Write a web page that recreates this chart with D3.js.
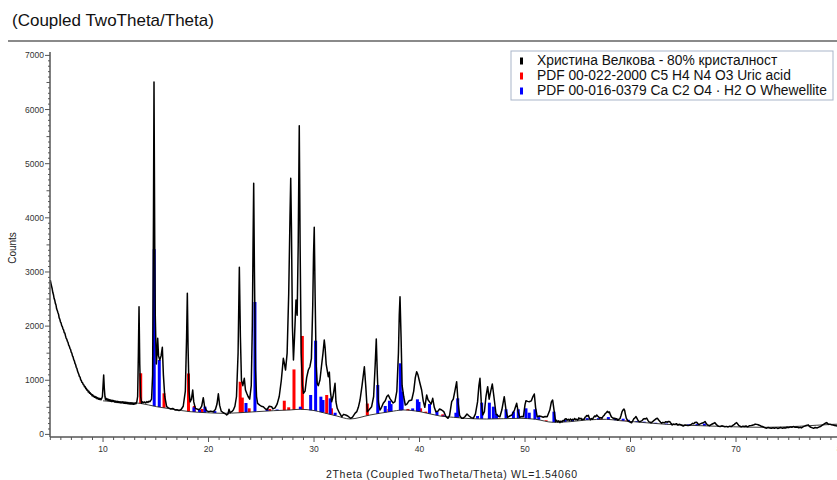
<!DOCTYPE html>
<meta charset="utf-8">
<style>
  body { margin: 0; background: #fff; }
  svg { display: block; font-family: "Liberation Sans", Arial, sans-serif; }
  .tick-label { font-size: 8.5px; fill: #333; }
  .axis-line { stroke: #555; stroke-width: 1.5; fill: none; }
  .tick { stroke: #555; stroke-width: 1; }
  .scan { fill: none; stroke: #000; stroke-width: 1.5; stroke-linejoin: round; }
  .bg { fill: none; stroke: #222; stroke-width: 0.9; }
  .legend-text { font-size: 13.8px; fill: #111; }
</style>
<svg width="837" height="480"></svg>
<script src="https://d3js.org/d3.v7.min.js"></script>
<script>

// measured scan: [2theta, counts]
var scan = [
  [5.0,2850],[5.06,2790],[5.12,2740],[5.18,2690],[5.24,2620],[5.3,2580],[5.36,2510],[5.42,2480],[5.48,2420],[5.54,2390],
  [5.6,2320],[5.66,2290],[5.72,2250],[5.78,2220],[5.84,2150],[5.9,2130],[5.96,2080],[6.02,2060],[6.08,2010],[6.14,1990],
  [6.2,1950],[6.26,1930],[6.32,1880],[6.38,1870],[6.44,1820],[6.5,1780],[6.56,1760],[6.62,1720],[6.68,1700],[6.74,1650],
  [6.8,1630],[6.86,1590],[6.92,1570],[6.98,1520],[7.04,1500],[7.1,1450],[7.16,1430],[7.22,1380],[7.28,1360],[7.34,1310],
  [7.4,1290],[7.46,1240],[7.52,1220],[7.58,1170],[7.64,1140],[7.7,1110],[7.76,1070],[7.82,1060],[7.88,1010],[7.94,995],
  [8.0,960],[8.06,955],[8.12,920],[8.18,915],[8.24,880],[8.3,885],[8.36,845],[8.42,850],[8.48,815],[8.54,820],
  [8.6,785],[8.66,795],[8.72,760],[8.78,770],[8.84,740],[8.9,745],[8.96,715],[9.02,730],[9.08,700],[9.14,710],
  [9.2,685],[9.26,700],[9.32,672],[9.38,690],[9.44,660],[9.5,675],[9.56,650],[9.62,668],[9.68,645],[9.74,662],
  [9.8,640],[9.86,660],[9.94,700],[10.0,900],[10.06,1097],[10.12,850],[10.18,700],[10.24,640],[10.3,665],[10.36,635],
  [10.42,655],[10.48,625],[10.54,648],[10.6,620],[10.66,640],[10.72,615],[10.78,632],[10.84,605],[10.9,628],[10.96,610],
  [11.02,625],[11.08,598],[11.14,618],[11.2,595],[11.26,612],[11.32,590],[11.38,610],[11.44,588],[11.5,605],[11.56,585],
  [11.62,602],[11.68,580],[11.74,598],[11.8,584],[11.86,600],[11.92,578],[11.98,596],[12.04,575],[12.1,595],[12.16,572],
  [12.22,590],[12.28,568],[12.34,588],[12.4,565],[12.46,583],[12.52,562],[12.58,580],[12.64,560],[12.7,578],[12.76,558],
  [12.82,575],[12.88,556],[12.94,572],[13.0,560],[13.06,578],[13.12,565],[13.2,600],[13.28,700],
  [13.35,1500],[13.41,2359],[13.48,1300],[13.56,700],[13.66,574],[13.75,600],[13.85,585],[13.95,600],
  [14.05,580],[14.15,605],[14.25,590],[14.35,612],[14.45,604],[14.6,650],[14.7,1100],[14.78,4000],[14.83,6509],[14.9,3500],[14.95,2200],
  [15.05,1300],[15.12,1500],[15.18,1775],[15.26,1450],[15.38,1374],[15.5,1450],[15.62,1609],[15.72,1100],[15.85,700],
  [16.03,512],[16.2,490],[16.4,470],[16.6,480],[16.82,451],[17.0,455],[17.2,440],[17.4,460],[17.6,520],[17.8,800],
  [17.92,1800],[17.99,2606],[18.06,1600],[18.15,800],[18.25,600],[18.38,650],[18.5,820],[18.6,600],[18.75,480],
  [18.9,470],[19.05,455],[19.2,470],[19.35,520],[19.5,678],[19.62,520],[19.8,440],[20.0,420],[20.2,430],[20.45,420],
  [20.65,460],[20.8,560],[20.93,750],[21.05,540],[21.2,430],[21.4,400],[21.6,380],[21.72,358],[21.85,380],[21.94,464],
  [22.05,400],[22.2,420],[22.35,451],[22.5,520],[22.65,700],[22.8,1500],[22.92,3086],[23.02,1800],[23.12,1000],
  [23.25,900],[23.39,1036],[23.5,820],[23.62,760],[23.75,700],[23.9,650],[24.05,900],[24.15,2000],[24.22,3500],
  [24.28,4638],[24.35,3000],[24.45,1200],[24.55,700],[24.65,574],[24.85,540],[25.0,520],[25.19,512],[25.4,470],
  [25.55,460],[25.75,520],[25.98,512],[26.1,470],[26.3,490],[26.5,560],[26.7,700],[26.9,1000],[27.09,1405],
  [27.2,1300],[27.3,1189],[27.45,1500],[27.6,2600],[27.72,4000],[27.79,4730],[27.86,3800],[27.95,2000],[28.05,1374],
  [28.15,1800],[28.29,2482],[28.4,2200],[28.5,3500],[28.6,5702],[28.68,3500],[28.78,1500],[28.9,900],[29.0,759],
  [29.15,800],[29.3,1050],[29.46,1189],[29.61,1250],[29.75,1400],[29.88,2400],[29.95,3300],[30.02,3825],[30.1,2600],
  [30.2,1300],[30.3,944],[30.4,900],[30.56,1005],[30.7,1250],[30.85,1500],[30.97,1744],[31.05,1600],[31.15,1300],
  [31.35,1066],[31.45,1150],[31.55,800],[31.67,604],[31.8,700],[31.99,944],[32.08,600],[32.2,482],[32.4,400],
  [32.62,327],[32.8,370],[33.0,358],[33.2,340],[33.47,297],[33.65,320],[33.88,389],[34.05,420],[34.2,500],[34.36,635],
  [34.55,900],[34.77,1250],[34.9,900],[35.05,420],[35.2,450],[35.46,512],[35.65,700],[35.8,1300],[35.9,1762],
  [36.0,1100],[36.1,600],[36.25,450],[36.4,500],[36.56,574],[36.75,620],[36.9,700],[37.04,728],[37.2,660],[37.35,620],
  [37.5,580],[37.67,604],[37.85,800],[38.0,1500],[38.08,2200],[38.15,2543],[38.25,1800],[38.35,900],[38.5,700],
  [38.65,543],[38.8,560],[39.0,620],[39.26,635],[39.45,800],[39.6,1050],[39.73,1158],[39.85,1100],[40.04,944],
  [40.2,820],[40.35,620],[40.5,500],[40.68,728],[40.8,640],[40.95,600],[41.1,560],[41.25,666],[41.4,500],[41.55,420],
  [41.75,430],[41.9,470],[42.1,451],[42.3,420],[42.5,330],[42.7,297],[42.85,350],[43.05,604],[43.2,650],[43.35,800],
  [43.52,973],[43.65,600],[43.8,350],[44.0,297],[44.15,300],[44.3,327],[44.5,377],[44.7,340],[44.9,310],[45.1,297],
  [45.3,380],[45.5,600],[45.63,900],[45.73,1036],[45.85,600],[46.0,358],[46.15,420],[46.3,700],[46.46,881],[46.6,650],
  [46.75,800],[46.9,931],[47.05,700],[47.25,377],[47.45,340],[47.62,327],[47.8,450],[48.03,697],[48.2,450],[48.35,316],
  [48.55,340],[48.75,358],[49.0,450],[49.21,574],[49.35,420],[49.5,316],[49.7,330],[49.85,327],[50.0,550],[50.09,622],
  [50.25,610],[50.4,604],[50.6,620],[50.75,700],[50.88,746],[51.0,500],[51.15,327],[51.35,340],[51.55,330],[51.73,316],
  [51.9,330],[52.1,327],[52.35,450],[52.5,600],[52.62,635],[52.75,450],
  [52.9,235],[53.0,260],[53.1,230],[53.2,250],[53.31,216],[53.4,245],[53.5,228],[53.6,258],[53.7,250],[53.8,285],
  [53.9,290],[54.0,262],[54.1,280],[54.2,255],[54.3,285],[54.4,262],[54.5,280],[54.6,265],[54.7,295],[54.8,270],
  [54.89,280],[55.0,262],[55.1,305],[55.2,285],[55.3,298],[55.4,270],[55.5,282],[55.6,275],[55.7,318],[55.78,330],
  [55.85,348],[55.92,340],[56.0,355],[56.1,300],[56.2,270],[56.3,292],[56.4,280],[56.5,315],[56.6,340],[56.7,328],
  [56.8,358],[56.9,335],[57.0,318],[57.1,300],[57.2,310],[57.3,298],[57.4,335],[57.5,350],[57.6,385],[57.7,400],
  [57.8,425],[57.9,405],[58.0,415],[58.1,360],[58.2,320],[58.3,310],[58.4,290],[58.5,300],[58.6,282],[58.7,290],
  [58.8,262],[58.9,280],[59.0,290],[59.1,350],[59.2,420],[59.3,455],[59.38,470],[59.45,440],[59.5,385],[59.6,300],
  [59.7,265],[59.8,245],[59.9,232],[60.0,225],[60.1,215],[60.2,245],[60.3,285],[60.4,300],[60.52,330],[60.6,300],
  [60.7,262],[60.8,240],[60.9,235],[61.0,245],[61.1,255],[61.2,280],[61.3,292],[61.4,285],[61.53,300],[61.65,260],
  [61.75,232],[61.85,225],[61.95,215],[62.1,235],[62.2,255],[62.3,270],[62.4,285],[62.54,300],[62.65,270],[62.75,248],
  [62.85,225],[62.95,205],[63.05,222],[63.2,215],[63.35,235],[63.5,225],[63.6,240],[63.74,232],[63.85,200],[63.95,175],
  [64.05,192],[64.2,185],[64.35,198],[64.5,172],[64.6,188],[64.75,178],[64.9,165],[65.0,155],[65.15,172],[65.3,170],
  [65.45,162],[65.6,168],[65.75,185],[65.9,205],[66.0,195],[66.1,218],[66.27,225],[66.4,195],[66.5,182],[66.6,195],
  [66.75,205],[66.9,215],[67.06,238],[67.2,195],[67.3,175],[67.4,168],[67.5,160],[67.6,175],[67.75,192],[67.9,205],
  [68.0,218],[68.1,190],[68.2,172],[68.35,150],[68.5,145],[68.65,158],[68.8,150],[68.95,140],[69.1,148],[69.25,138],
  [69.4,152],[69.55,145],[69.7,165],[69.85,185],[69.95,205],[70.06,218],[70.15,195],[70.25,168],[70.4,150],[70.5,140],
  [70.65,152],[70.8,145],[70.95,155],[71.1,140],[71.25,158],[71.4,162],[71.55,170],[71.7,178],[71.82,190],[71.96,185],
  [72.1,178],[72.2,170],[72.35,155],[72.5,145],[72.7,128],[72.9,115],[73.05,128],[73.2,120],[73.35,112],[73.5,122],
  [73.65,115],[73.8,125],[73.95,110],[74.1,118],[74.25,126],[74.4,115],[74.55,122],[74.7,118],[74.85,132],[75.0,125],
  [75.15,138],[75.3,132],[75.43,145],[75.6,130],[75.8,135],[75.95,122],[76.1,130],[76.2,120],[76.35,140],[76.5,152],
  [76.65,165],[76.85,176],[76.95,150],[77.1,132],[77.25,120],[77.35,112],[77.5,128],[77.7,120],[77.85,135],[78.0,145],
  [78.15,165],[78.3,185],[78.45,205],[78.59,218],[78.7,200],[78.8,185],[78.9,190],[79.05,178],[79.2,172],[79.35,165],
  [79.5,158],[79.57,155],[79.7,162],[79.85,158],[80.0,160]
];

// fitted background under the pattern
var background = [
  [10,620],[11.5,600],[13.5,574],[15.08,512],[16.66,464],[18.24,420],[19.82,401],[21.4,389],[22.98,401],[24.56,420],
  [26.14,438],[27.72,451],[28.68,464],[30.0,440],[30.88,401],[32.15,340],[33.41,285],[35.3,358],[37.2,420],[38.46,451],
  [40.04,420],[41.93,340],[43.2,316],[44.5,295],[46.36,284],[49.52,297],[51.0,279],[52.68,223],[54.26,235],[55.84,266],
  [57.74,279],[59.0,253],[60.26,235],[63.43,186],[66.6,161],[72.9,131],[76,150],[79.2,186],[80,190]
];

// reference patterns: [2theta, top of stick in counts]
var uricAcid = [
  [13.57,1129],[15.78,759],[18.1,1125],[18.65,525],[19.4,470],[23.0,973],[23.2,680],[23.85,482],[25.8,470],[27.18,622],
  [27.6,500],[28.1,1200],[28.89,1818],[31.2,728],[31.65,482],[35.05,570],[37.1,470],[38.9,470],[40.1,482],[40.6,420],
  [42.2,370],[47.5,300],[52.0,260],[57.2,290],[57.9,285],[59.2,260],[59.6,255]
];
var whewellite = [
  [14.85,3421],[15.33,1374],[18.62,500],[19.15,451],[19.66,512],[20.6,430],[21.9,400],[23.55,580],[24.4,2445],[25.55,460],
  [26.5,460],[28.7,512],[29.68,728],[30.15,1731],[30.65,697],[30.85,635],[31.53,666],[32.0,400],[33.8,300],[36.04,912],
  [36.75,525],[37.15,622],[37.3,560],[38.18,1313],[38.35,789],[39.35,480],[39.8,648],[39.95,600],[40.95,561],[41.65,420],
  [42.3,350],[43.45,400],[43.62,666],[45.5,340],[45.89,586],[46.62,586],[47.0,512],[47.3,380],[48.2,464],[48.9,420],
  [49.36,464],[50.09,482],[50.4,401],[50.94,464],[51.3,320],[52.74,420],[53.8,270],[54.5,265],[55.9,300],[56.95,300],
  [57.9,320],[58.55,300],[59.3,290],[59.8,270],[60.6,245],[61.3,235],[62.4,215],[63.4,200],[65.5,185],[66.3,190],[67.0,200]
];

var xTickValues = [10, 20, 30, 40, 50, 60, 70, 80];
var yTickValues = [0, 1000, 2000, 3000, 4000, 5000, 6000, 7000];
var legendLabels = [
  'Христина Велкова - 80% кристалност',
  'PDF 00-022-2000 C5 H4 N4 O3 Uric acid',
  'PDF 00-016-0379 Ca C2 O4 · H2 O Whewellite'
];
var legendColors = ['#000', '#f00', '#00f'];

var svg = d3.select('svg');

var x = d3.scaleLinear().domain([5, 80]).range([50.3, 841.5]);
var y = d3.scaleLinear().domain([0, 7000]).range([434.4, 55.4]);
var bgAt = d3.scaleLinear()
    .domain(background.map(function(d) { return d[0]; }))
    .range(background.map(function(d) { return d[1]; }));

// title and separator
svg.append('text')
    .attr('x', 12).attr('y', 26)
    .style('font-size', '17px').style('fill', '#111')
    .text('(Coupled TwoTheta/Theta)');
svg.append('line')
    .attr('x1', 8).attr('x2', 837).attr('y1', 41).attr('y2', 41)
    .style('stroke', '#8a8a8a').style('stroke-width', 2);

// sticks first, scan on top
function drawSticks(data, color) {
    svg.append('g').selectAll('rect')
        .data(data.filter(function(d) { return d[1] > bgAt(d[0]); }))
        .enter().append('rect')
            .attr('x', function(d) { return x(d[0]) - 1.5; })
            .attr('width', 3)
            .attr('y', function(d) { return y(d[1]); })
            .attr('height', function(d) { return y(bgAt(d[0])) - y(d[1]); })
            .attr('fill', color);
}
drawSticks(uricAcid, '#f00');
drawSticks(whewellite, '#00f');

svg.append('path')
    .datum(background)
    .attr('class', 'bg')
    .attr('d', d3.line().curve(d3.curveMonotoneX)
        .x(function(d) { return x(d[0]); })
        .y(function(d) { return y(d[1]); }));

svg.append('path')
    .datum(scan)
    .attr('class', 'scan')
    .attr('d', d3.line()
        .x(function(d) { return x(d[0]); })
        .y(function(d) { return y(d[1]); }));

// axes drawn by hand to get the minor ticks
var axisY = 437;
var gx = svg.append('g');
gx.append('line').attr('class', 'axis-line')
    .attr('x1', 50).attr('x2', 837).attr('y1', axisY).attr('y2', axisY);
gx.selectAll('.tick').data(d3.range(5, 81, 1))
    .enter().append('line').attr('class', 'tick')
    .attr('x1', function(d) { return x(d); }).attr('x2', function(d) { return x(d); })
    .attr('y1', axisY).attr('y2', function(d) { return axisY + (d % 10 === 0 ? 5 : 3); });
gx.selectAll('.tick-label').data(xTickValues)
    .enter().append('text').attr('class', 'tick-label')
    .attr('x', function(d) { return x(d); }).attr('y', 452)
    .attr('text-anchor', 'middle')
    .text(function(d) { return d; });

var gy = svg.append('g');
gy.append('line').attr('class', 'axis-line')
    .attr('x1', 50).attr('x2', 50).attr('y1', 52).attr('y2', axisY);
gy.selectAll('.tick').data(d3.range(0, 7001, 100))
    .enter().append('line').attr('class', 'tick')
    .attr('y1', function(d) { return y(d); }).attr('y2', function(d) { return y(d); })
    .attr('x1', 50).attr('x2', function(d) { return 50 - (d % 1000 === 0 ? 5 : d % 500 === 0 ? 3.5 : 2); });
gy.selectAll('.tick-label').data(yTickValues)
    .enter().append('text').attr('class', 'tick-label')
    .attr('x', 44).attr('y', function(d) { return y(d) + 3; })
    .attr('text-anchor', 'end')
    .text(function(d) { return d; });

svg.append('text')
    .attr('transform', 'translate(16,248) rotate(-90)')
    .attr('text-anchor', 'middle')
    .style('font-size', '10px').style('fill', '#222')
    .text('Counts');
svg.append('text')
    .attr('x', 326).attr('y', 478)
    .attr('textLength', 251).attr('lengthAdjust', 'spacing')
    .style('font-size', '10.5px').style('fill', '#222')
    .text('2Theta (Coupled TwoTheta/Theta)  WL=1.54060');

// legend
var legend = svg.append('g');
legend.append('rect')
    .attr('x', 511).attr('y', 51).attr('width', 322).attr('height', 49)
    .attr('fill', '#fff').attr('stroke', '#a9b5c9');
var rows = legend.selectAll('g.row').data(legendLabels)
    .enter().append('g').attr('class', 'row')
    .attr('transform', function(d, i) { return 'translate(0,' + (60 + i * 15) + ')'; });
rows.append('rect')
    .attr('x', 520).attr('y', -2.5).attr('width', 3).attr('height', 7)
    .attr('fill', function(d, i) { return legendColors[i]; });
rows.append('text').attr('class', 'legend-text')
    .attr('x', 537).attr('y', 4.5)
    .text(function(d) { return d; });

</script>
